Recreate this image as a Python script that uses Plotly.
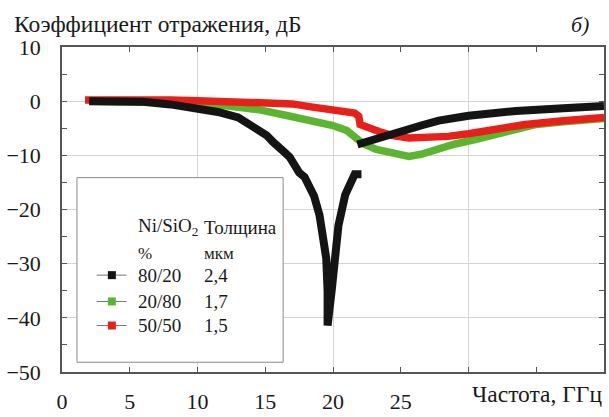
import plotly.graph_objects as go

# ---- data ----
black_x = [2, 4, 6, 8, 10, 11.5, 13, 14, 15.1, 15.6, 16, 16.4, 16.8, 17.5, 17.9, 18.2, 18.6, 19.0, 19.3, 19.5, 19.6, 19.6,
           19.9, 20.1, 20.4, 20.9, 21.3, 21.6, 22.1,
           None,
           21.8, 23, 24.9, 26.5, 27.8, 30, 33.5, 37, 40]
black_y = [0.0, 0.0, -0.1, -0.6, -1.2, -2.0, -3.0, -4.5, -6.3, -7.6, -8.3, -9.4, -10.3, -13.2, -14.0, -15.5, -17.5, -21, -25, -29, -35, -41.4,
           -35, -29, -23, -17.3, -15, -13.5, -13.5,
           None,
           -8.0, -7.0, -5.7, -4.5, -3.6, -2.7, -1.8, -1.3, -0.9]

green_x = [2, 6, 10, 12, 14.6, 16.5, 18.5, 20, 21, 21.7, 22.2, 23.2, 24.6, 25.6, 26.5, 27.3, 28, 29, 30.5,
           31.5, 33, 35, 37, 40]
green_y = [0.0, -0.1, -0.4, -0.8, -1.6, -2.6, -3.5, -4.5, -5.4, -6.6, -7.8, -8.9, -9.8, -10.2, -9.8, -9.1, -8.6, -7.9, -7.1,
           -6.5, -5.3, -4.3, -3.8, -3.2]

red_x = [1.7, 5, 8, 10, 12, 14, 16, 17, 18.5, 19.5, 21, 21.6, 21.9, 22.0, 23.4, 24.3, 25.6, 27, 28.5, 30, 32,
         34.2, 37, 40]
red_y = [0.2, 0.3, 0.2, 0.1, -0.1, -0.2, -0.3, -0.5, -1.1, -1.5, -1.9, -2.2, -2.8, -4.3, -5.6, -6.3, -6.8, -6.8,
         -6.5, -6.0, -5.2, -4.3, -3.6, -3.0]

x_ticks = [0, 5, 10, 15, 20, 25]
x_ticks_unlabelled = [30, 35]

legend_comp = ["80/20", "20/80", "50/50"]
legend_thick = ["2,4", "1,7", "1,5"]
legend_colors = ["#141414", "#5cb531", "#e8201a"]

FONT = "Liberation Serif, Times New Roman, serif"
AX = "#555555"
GRID = "#d4d4d4"
TXT = "#1a1a1a"

fig = go.Figure()
fig.add_trace(go.Scatter(x=green_x, y=green_y, mode="lines",
                         line=dict(color=legend_colors[1], width=7.5), showlegend=False))
fig.add_trace(go.Scatter(x=red_x, y=red_y, mode="lines",
                         line=dict(color=legend_colors[2], width=7.5), showlegend=False))
fig.add_trace(go.Scatter(x=black_x, y=black_y, mode="lines", xaxis="x2",
                         line=dict(color=legend_colors[0], width=8), connectgaps=False,
                         showlegend=False))

fig.update_layout(
    width=609, height=417,
    margin=dict(l=62, r=3, t=47, b=34),
    paper_bgcolor="white", plot_bgcolor="white",
    font=dict(family=FONT, size=20, color=TXT),
    showlegend=False,
    xaxis=dict(range=[0, 40], tickmode="array", tickvals=x_ticks,
               ticks="inside", ticklen=5, tickcolor=AX, tickwidth=1,
               minor=dict(tickmode="array", tickvals=x_ticks_unlabelled, ticks="inside",
                          ticklen=5, tickcolor=AX, tickwidth=1, showgrid=False),
               showline=True, linecolor=AX, linewidth=1.5, mirror="allticks",
               showgrid=False, zeroline=False, ticklabelstandoff=9,
               tickfont=dict(family=FONT, size=22, color=TXT)),
    xaxis2=dict(range=[0, 40], overlaying="x", matches="x", dtick=10, tick0=0,
                showgrid=True, gridcolor=GRID, gridwidth=1, showticklabels=False,
                ticks="", showline=False, zeroline=False),
    yaxis=dict(range=[-50, 10], dtick=10, tick0=0,
               ticks="inside", ticklen=5, tickcolor=AX, tickwidth=1,
               minor=dict(dtick=5, tick0=0, ticks="inside", ticklen=5, tickcolor=AX, showgrid=False),
               showline=True, linecolor=AX, linewidth=1.5, mirror="allticks",
               showgrid=True, gridcolor=GRID, gridwidth=1, zeroline=False,
               ticklabelstandoff=15,
               tickfont=dict(family=FONT, size=22, color=TXT)),
)

annotations = [
    dict(text="Коэффициент отражения, дБ", xref="paper", yref="paper", x=-0.092, y=1.07,
         xanchor="left", yanchor="middle", showarrow=False, font=dict(family=FONT, size=23.5)),
    dict(text="<i>б)</i>", xref="paper", yref="paper", x=0.976, y=1.068,
         xanchor="right", yanchor="middle", showarrow=False, font=dict(family=FONT, size=22)),
    dict(text="Частота, ГГц", xref="paper", yref="paper", x=1.0, y=-0.068,
         xanchor="right", yanchor="middle", showarrow=False, font=dict(family=FONT, size=23.5)),
]

# legend box built from shapes / annotations
shapes = [dict(type="rect", xref="paper", yref="paper", x0=0.0276, x1=0.408, y0=0.030, y1=0.598,
               line=dict(color="#8a8a8a", width=1), fillcolor="white", layer="above")]

col1_x, col2_x = 0.136, 0.259
header_y = [0.446, 0.366]
annotations += [
    dict(text="Ni/SiO<sub>2</sub>", xref="paper", yref="paper", x=col1_x, y=header_y[0],
         xanchor="left", yanchor="middle", showarrow=False, font=dict(family=FONT, size=19)),
    dict(text="Толщина", xref="paper", yref="paper", x=col2_x, y=header_y[0],
         xanchor="left", yanchor="middle", showarrow=False, font=dict(family=FONT, size=19)),
    dict(text="%", xref="paper", yref="paper", x=col1_x, y=header_y[1],
         xanchor="left", yanchor="middle", showarrow=False, font=dict(family=FONT, size=17)),
    dict(text="мкм", xref="paper", yref="paper", x=col2_x, y=header_y[1],
         xanchor="left", yanchor="middle", showarrow=False, font=dict(family=FONT, size=17)),
]
row_y = [0.298, 0.217, 0.143]
for comp, th, col, ry in zip(legend_comp, legend_thick, legend_colors, row_y):
    annotations.append(dict(text=comp, xref="paper", yref="paper", x=col1_x, y=ry,
                            xanchor="left", yanchor="middle", showarrow=False,
                            font=dict(family=FONT, size=19)))
    annotations.append(dict(text=th, xref="paper", yref="paper", x=col2_x, y=ry,
                            xanchor="left", yanchor="middle", showarrow=False,
                            font=dict(family=FONT, size=19)))
    shapes.append(dict(type="line", xref="paper", yref="paper", x0=0.064, x1=0.119, y0=ry, y1=ry,
                       line=dict(color="#777777", width=1), layer="above"))
    shapes.append(dict(type="rect", xref="paper", yref="paper", xsizemode="pixel", ysizemode="pixel",
                       xanchor=0.092, yanchor=ry, x0=-4, x1=4, y0=-4, y1=4,
                       line=dict(color=col, width=0), fillcolor=col, layer="above"))

fig.update_layout(annotations=annotations, shapes=shapes)
fig.write_html("out.html")
